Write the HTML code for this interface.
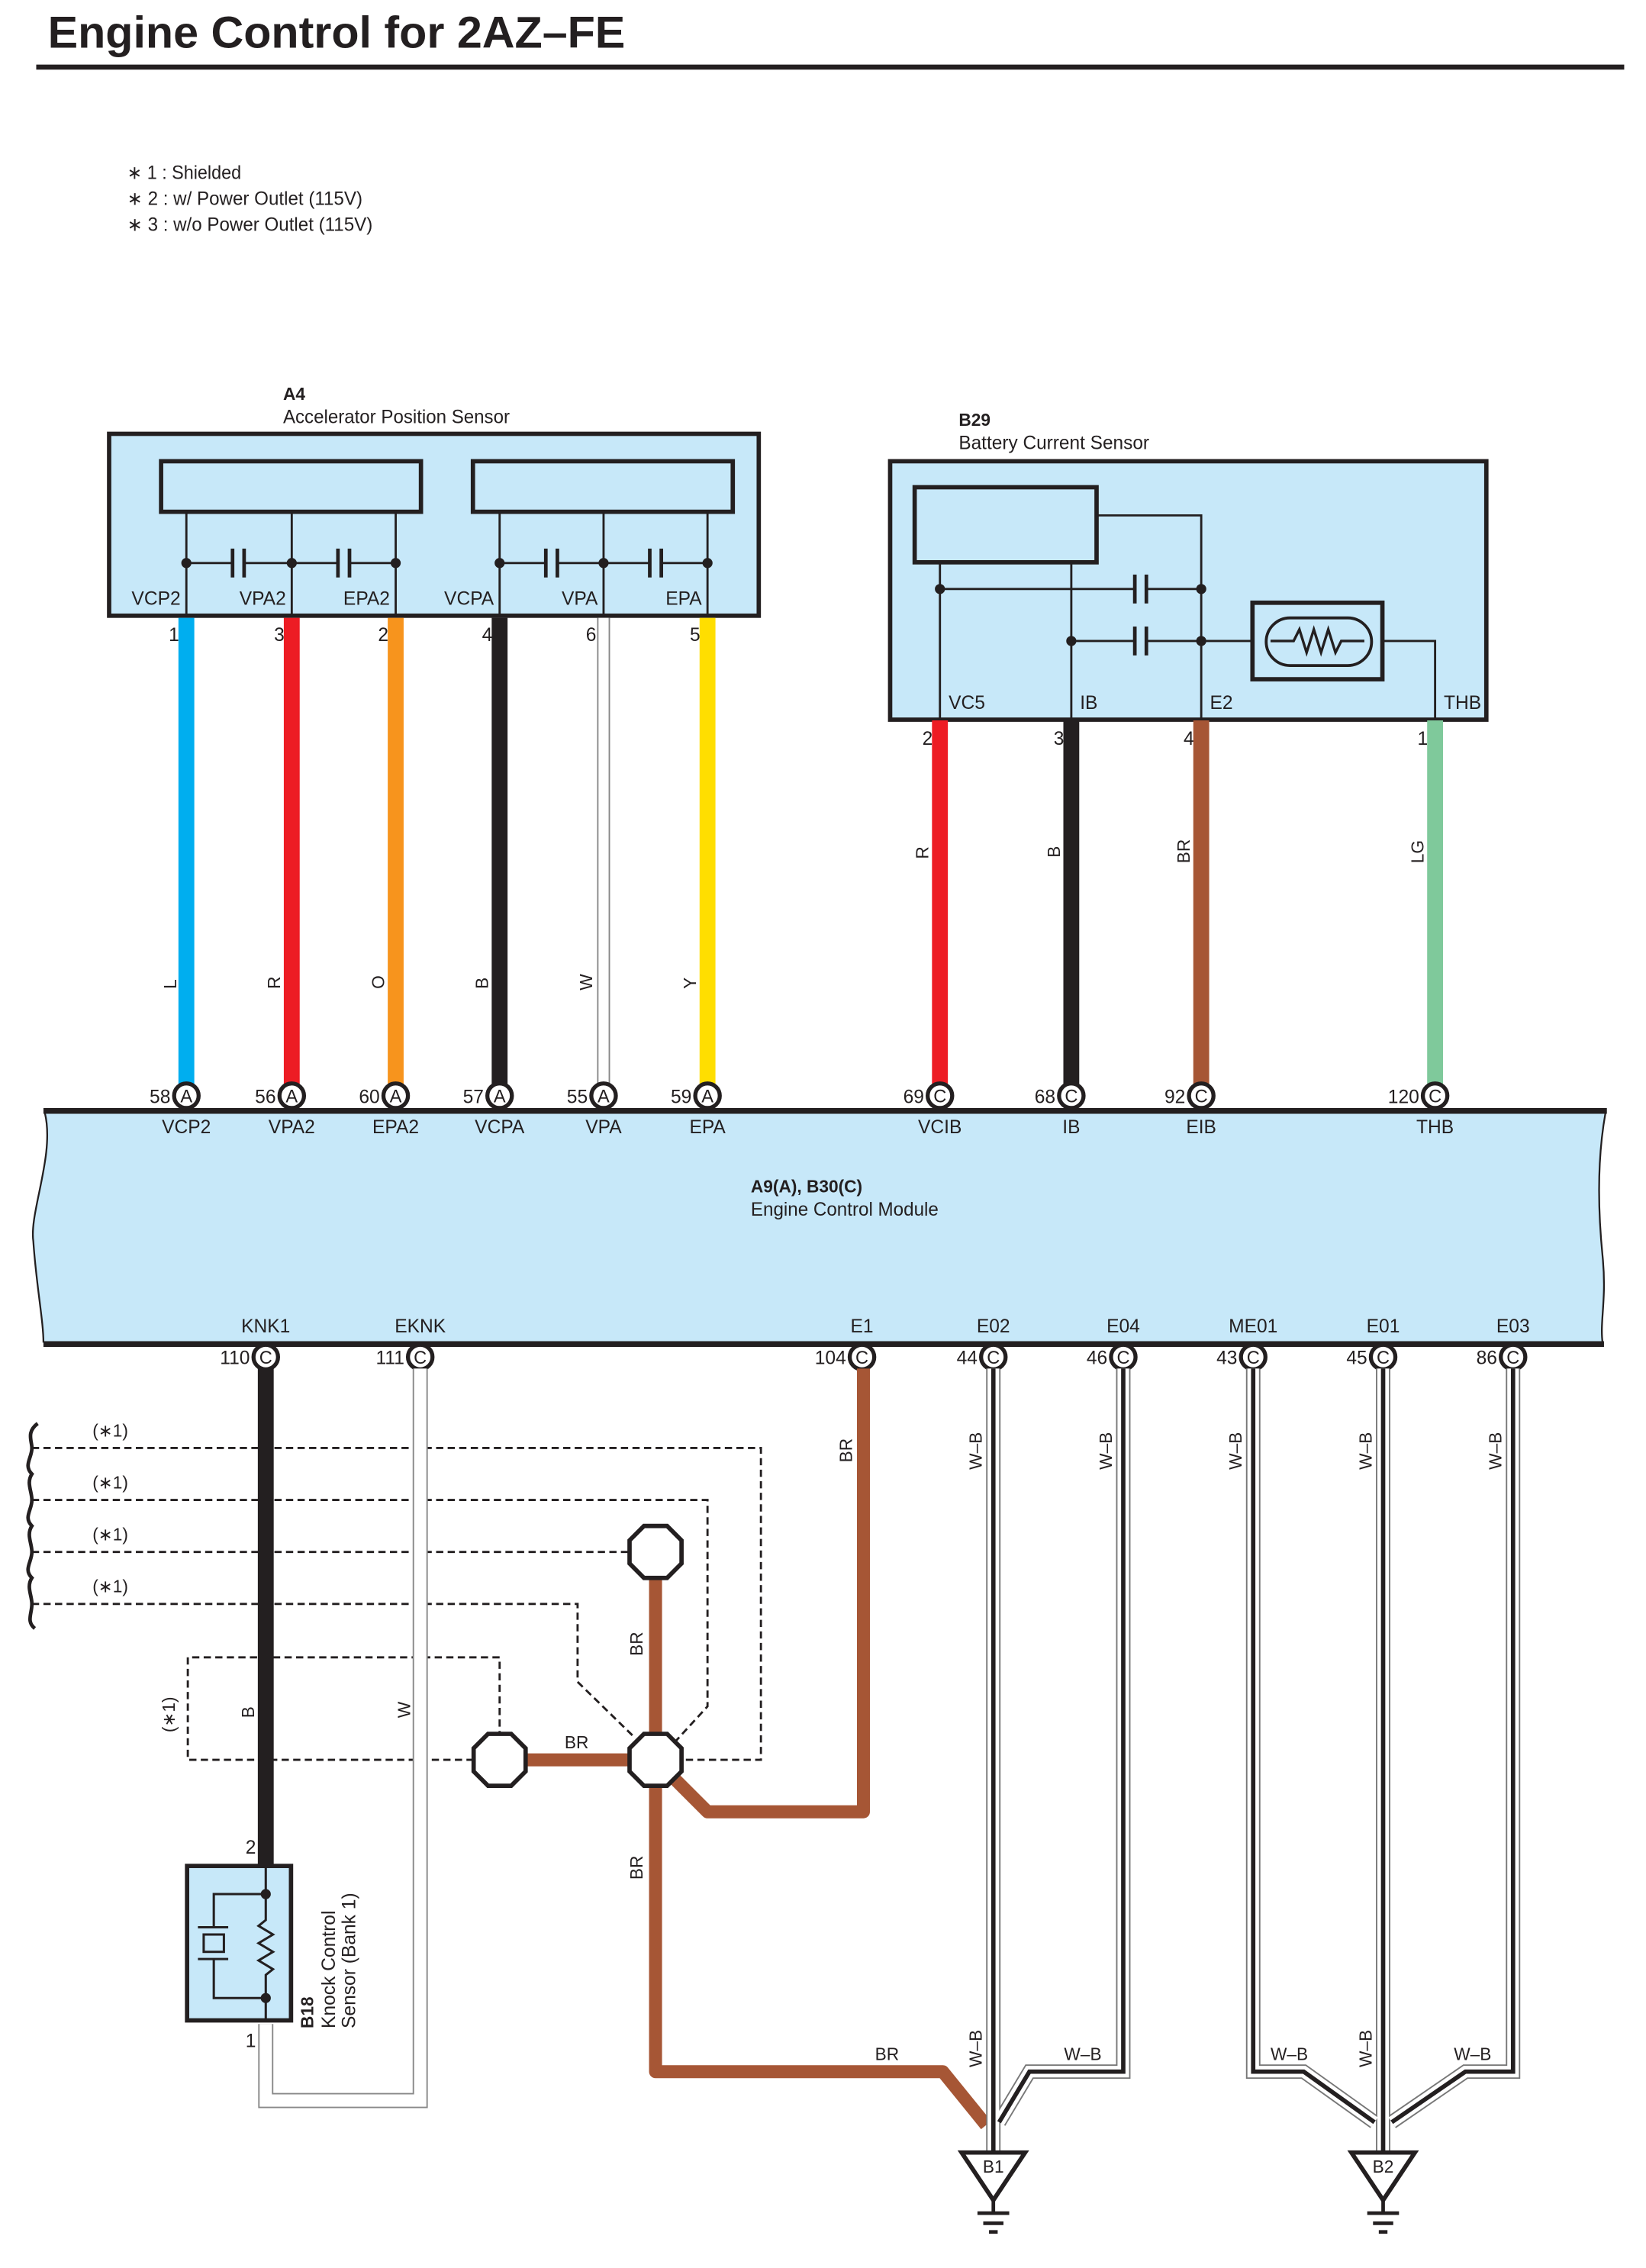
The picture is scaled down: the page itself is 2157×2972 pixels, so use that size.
<!DOCTYPE html>
<html><head><meta charset="utf-8"><style>
html,body{margin:0;padding:0;background:#fff;}
svg{display:block;}
text{font-family:"Liberation Sans",sans-serif;fill:#231f20;}
</style></head><body>
<svg xmlns="http://www.w3.org/2000/svg" width="2157" height="2972" viewBox="0 0 1140 1571">
<defs>
<g id="cap"><line x1="-4" y1="-10" x2="-4" y2="10" stroke="#231f20" stroke-width="2.5"/><line x1="4" y1="-10" x2="4" y2="10" stroke="#231f20" stroke-width="2.5"/></g>
</defs>
<!-- title -->
<text x="33" y="33" font-size="31" font-weight="bold" textLength="400" lengthAdjust="spacingAndGlyphs">Engine Control for 2AZ–FE</text>
<line x1="25" y1="46.5" x2="1125" y2="46.5" stroke="#231f20" stroke-width="3.5"/>
<g font-size="13">
<text x="88" y="124" textLength="79" lengthAdjust="spacingAndGlyphs">∗ 1 : Shielded</text>
<text x="88" y="142" textLength="163" lengthAdjust="spacingAndGlyphs">∗ 2 : w/ Power Outlet (115V)</text>
<text x="88" y="160" textLength="170" lengthAdjust="spacingAndGlyphs">∗ 3 : w/o Power Outlet (115V)</text>
</g>

<!-- A4 -->
<text x="196" y="277" font-size="12" font-weight="bold">A4</text>
<text x="196" y="293" font-size="13" textLength="157" lengthAdjust="spacingAndGlyphs">Accelerator Position Sensor</text>
<rect x="75.5" y="300.5" width="450" height="126" fill="#c7e8f9" stroke="#231f20" stroke-width="3"/>
<rect x="111.5" y="319.5" width="180" height="35" fill="#c7e8f9" stroke="#231f20" stroke-width="3"/>
<rect x="327.5" y="319.5" width="180" height="35" fill="#c7e8f9" stroke="#231f20" stroke-width="3"/>
<g stroke="#231f20" stroke-width="1.5" fill="none">
<path d="M129 354V427M202 354V427M274 354V427M346 354V427M418 354V427M490 354V427"/>
<path d="M129 390H161M169 390H234M242 390H274M346 390H378M386 390H450M458 390H490"/>
</g>
<g fill="#231f20"><circle cx="129" cy="390" r="3.5"/><circle cx="202" cy="390" r="3.5"/><circle cx="274" cy="390" r="3.5"/><circle cx="346" cy="390" r="3.5"/><circle cx="418" cy="390" r="3.5"/><circle cx="490" cy="390" r="3.5"/></g>
<use href="#cap" x="165" y="390"/><use href="#cap" x="238" y="390"/><use href="#cap" x="382" y="390"/><use href="#cap" x="454" y="390"/>
<g font-size="13" text-anchor="end">
<text x="125" y="419">VCP2</text><text x="198" y="419">VPA2</text><text x="270" y="419">EPA2</text>
<text x="342" y="419">VCPA</text><text x="414" y="419">VPA</text><text x="486" y="419">EPA</text>
<text x="124" y="444">1</text><text x="197" y="444">3</text><text x="269" y="444">2</text>
<text x="341" y="444">4</text><text x="413" y="444">6</text><text x="485" y="444">5</text>
</g>
<!-- A4 wires -->
<g stroke-width="11">
<line x1="129" y1="428" x2="129" y2="751" stroke="#00aeef"/>
<line x1="202" y1="428" x2="202" y2="751" stroke="#ed1c24"/>
<line x1="274" y1="428" x2="274" y2="751" stroke="#f7941d"/>
<line x1="346" y1="428" x2="346" y2="751" stroke="#231f20"/>
<line x1="490" y1="428" x2="490" y2="751" stroke="#ffde00"/>
</g>
<line x1="418" y1="428" x2="418" y2="751" stroke="#888" stroke-width="9"/>
<line x1="418" y1="428" x2="418" y2="751" stroke="#fff" stroke-width="7"/>
<g font-size="12">
<text transform="translate(122,685) rotate(-90)">L</text>
<text transform="translate(194,685) rotate(-90)">R</text>
<text transform="translate(266,685) rotate(-90)">O</text>
<text transform="translate(338,685) rotate(-90)">B</text>
<text transform="translate(410,686) rotate(-90)">W</text>
<text transform="translate(482,685) rotate(-90)">Y</text>
</g>

<!-- B29 -->
<text x="664" y="295" font-size="12" font-weight="bold">B29</text>
<text x="664" y="311" font-size="13" textLength="132" lengthAdjust="spacingAndGlyphs">Battery Current Sensor</text>
<rect x="616.5" y="319.5" width="413" height="179" fill="#c7e8f9" stroke="#231f20" stroke-width="3"/>
<rect x="633.5" y="337.5" width="126" height="52" fill="#c7e8f9" stroke="#231f20" stroke-width="3"/>
<g stroke="#231f20" stroke-width="1.5" fill="none">
<path d="M760 357H832V499M651 390V499M742 390V499"/>
<path d="M651 408H786M794 408H832M742 444H786M794 444H880M942 444H994V499"/>
</g>
<use href="#cap" x="790" y="408"/><use href="#cap" x="790" y="444"/>
<g fill="#231f20"><circle cx="651" cy="408" r="3.5"/><circle cx="832" cy="408" r="3.5"/><circle cx="742" cy="444" r="3.5"/><circle cx="832" cy="444" r="3.5"/></g>
<rect x="867.5" y="417.5" width="90" height="53" fill="#c7e8f9" stroke="#231f20" stroke-width="3"/>
<rect x="877" y="428" width="73" height="33" rx="16.5" fill="#c7e8f9" stroke="#231f20" stroke-width="2"/>
<path d="M880 444H896L900 436L905 452L910 436L915 452L920 436L925 452L929 444H945" fill="none" stroke="#231f20" stroke-width="1.8"/>
<g font-size="13">
<text x="657" y="491">VC5</text><text x="748" y="491">IB</text><text x="838" y="491">E2</text><text x="1000" y="491">THB</text>
</g>
<g font-size="13" text-anchor="end">
<text x="646" y="516">2</text><text x="737" y="516">3</text><text x="827" y="516">4</text><text x="989" y="516">1</text>
</g>
<g stroke-width="11">
<line x1="651" y1="499" x2="651" y2="751" stroke="#ed1c24"/>
<line x1="742" y1="499" x2="742" y2="751" stroke="#231f20"/>
<line x1="832" y1="499" x2="832" y2="751" stroke="#a65635"/>
<line x1="994" y1="499" x2="994" y2="751" stroke="#7fc99b"/>
</g>
<g font-size="12">
<text transform="translate(643,595) rotate(-90)">R</text>
<text transform="translate(734,594) rotate(-90)">B</text>
<text transform="translate(824,598) rotate(-90)">BR</text>
<text transform="translate(986,598) rotate(-90)">LG</text>
</g>

<!-- ECM -->
<path d="M31 769H1112C1105 810 1108 850 1110 870C1113 900 1108 915 1110 931H30C30 915 25 890 23 860C20 840 38 800 31 769Z" fill="#c7e8f9"/>
<line x1="30" y1="769.5" x2="1113" y2="769.5" stroke="#231f20" stroke-width="4"/>
<line x1="30" y1="931" x2="1111" y2="931" stroke="#231f20" stroke-width="4"/>
<path d="M31 771C38 800 20 840 23 860C25 890 30 915 30 930" fill="none" stroke="#231f20" stroke-width="1.2"/>
<path d="M1112 771C1105 810 1108 850 1110 870C1113 900 1108 915 1110 930" fill="none" stroke="#231f20" stroke-width="1.2"/>
<g font-size="13" text-anchor="middle">
<text x="129" y="785">VCP2</text><text x="202" y="785">VPA2</text><text x="274" y="785">EPA2</text>
<text x="346" y="785">VCPA</text><text x="418" y="785">VPA</text><text x="490" y="785">EPA</text>
<text x="651" y="785">VCIB</text><text x="742" y="785">IB</text><text x="832" y="785">EIB</text><text x="994" y="785">THB</text>
<text x="184" y="923">KNK1</text><text x="291" y="923">EKNK</text><text x="597" y="923">E1</text>
<text x="688" y="923">E02</text><text x="778" y="923">E04</text><text x="868" y="923">ME01</text>
<text x="958" y="923">E01</text><text x="1048" y="923">E03</text>
</g>
<text x="520" y="826" font-size="12" font-weight="bold">A9(A), B30(C)</text>
<text x="520" y="842" font-size="13" textLength="130" lengthAdjust="spacingAndGlyphs">Engine Control Module</text>

<!-- connector circles -->
<g font-size="12">
<g stroke="#231f20" stroke-width="2.8" fill="#fff">
<circle cx="129" cy="759" r="8.5"/><circle cx="202" cy="759" r="8.5"/><circle cx="274" cy="759" r="8.5"/>
<circle cx="346" cy="759" r="8.5"/><circle cx="418" cy="759" r="8.5"/><circle cx="490" cy="759" r="8.5"/>
<circle cx="651" cy="759" r="8.5"/><circle cx="742" cy="759" r="8.5"/><circle cx="832" cy="759" r="8.5"/><circle cx="994" cy="759" r="8.5"/>
<circle cx="184" cy="940" r="8.5"/><circle cx="291" cy="940" r="8.5"/><circle cx="597" cy="940" r="8.5"/>
<circle cx="688" cy="940" r="8.5"/><circle cx="778" cy="940" r="8.5"/><circle cx="868" cy="940" r="8.5"/>
<circle cx="958" cy="940" r="8.5"/><circle cx="1048" cy="940" r="8.5"/>
</g>
<g text-anchor="middle" font-size="12.5">
<text x="129" y="763.5">A</text><text x="202" y="763.5">A</text><text x="274" y="763.5">A</text><text x="346" y="763.5">A</text><text x="418" y="763.5">A</text><text x="490" y="763.5">A</text>
<text x="651" y="763.5">C</text><text x="742" y="763.5">C</text><text x="832" y="763.5">C</text><text x="994" y="763.5">C</text>
<text x="184" y="944.5">C</text><text x="291" y="944.5">C</text><text x="597" y="944.5">C</text><text x="688" y="944.5">C</text>
<text x="778" y="944.5">C</text><text x="868" y="944.5">C</text><text x="958" y="944.5">C</text><text x="1048" y="944.5">C</text>
</g>
<g text-anchor="end" font-size="13">
<text x="118" y="764">58</text><text x="191" y="764">56</text><text x="263" y="764">60</text><text x="335" y="764">57</text><text x="407" y="764">55</text><text x="479" y="764">59</text>
<text x="640" y="764">69</text><text x="731" y="764">68</text><text x="821" y="764">92</text><text x="983" y="764">120</text>
<text x="173" y="945">110</text><text x="280" y="945">111</text><text x="586" y="945">104</text><text x="677" y="945">44</text>
<text x="767" y="945">46</text><text x="857" y="945">43</text><text x="947" y="945">45</text><text x="1037" y="945">86</text>
</g>
</g>

<!-- dashed shields -->
<g stroke="#231f20" stroke-width="1.5" fill="none" stroke-dasharray="5,3">
<path d="M22 1003H527V1219H472"/>
<path d="M22 1039H490V1182L468 1206"/>
<path d="M22 1075H436"/>
<path d="M22 1111H400V1165L440 1204"/>
<path d="M328 1219H130V1148H346V1200"/>
</g>
<path d="M26 986C18 992 22 998 22 1003C22 1010 16 1015 22 1021C18 1027 22 1033 22 1039C22 1046 16 1051 22 1057C18 1063 22 1069 22 1075C22 1082 16 1087 22 1093C18 1099 22 1105 22 1111C22 1118 18 1123 24 1128" fill="none" stroke="#231f20" stroke-width="2.5"/>
<g font-size="12">
<text x="64" y="995">(∗1)</text><text x="64" y="1031">(∗1)</text><text x="64" y="1067">(∗1)</text><text x="64" y="1103">(∗1)</text>
<text transform="translate(121,1200) rotate(-90)">(∗1)</text>
</g>

<!-- EKNK W wire loop -->
<path d="M291 948V1455H184V1402" fill="none" stroke="#888" stroke-width="10.5"/>
<path d="M291 948V1455H184V1402" fill="none" stroke="#fff" stroke-width="8.5"/>
<line x1="184" y1="948" x2="184" y2="1293" stroke="#231f20" stroke-width="11"/>
<g font-size="12">
<text transform="translate(176,1190) rotate(-90)">B</text>
<text transform="translate(284,1190) rotate(-90)">W</text>
</g>

<!-- BR wires -->
<g stroke="#a65635" stroke-width="9" fill="none" stroke-linejoin="round">
<path d="M598 948V1255H490L454 1219"/>
<path d="M346 1219H454"/>
<path d="M454 1075V1219"/>
<path d="M454 1219V1435H653L683 1472"/>
</g>
<g fill="#fff" stroke="#231f20" stroke-width="3">
<path d="M338 1201H354L364 1211V1227L354 1237H338L328 1227V1211Z"/>
<path d="M446 1201H462L472 1211V1227L462 1237H446L436 1227V1211Z"/>
<path d="M446 1057H462L472 1067V1083L462 1093H446L436 1083V1067Z"/>
</g>
<g font-size="12">
<text x="391" y="1211">BR</text>
<text transform="translate(445,1147) rotate(-90)">BR</text>
<text transform="translate(445,1302) rotate(-90)">BR</text>
<text transform="translate(590,1013) rotate(-90)">BR</text>
<text x="606" y="1427">BR</text>
</g>

<!-- Knock sensor -->
<rect x="129.5" y="1292.5" width="72" height="107" fill="#c7e8f9" stroke="#231f20" stroke-width="3"/>
<g stroke="#231f20" stroke-width="1.6" fill="none">
<path d="M184 1292V1330L179 1334L189 1340L179 1346L189 1352L179 1358L189 1364L184 1368V1400"/>
<path d="M184 1312H148V1335M148 1357V1384H184"/>
<path d="M137 1335H158M137 1357H158"/>
<rect x="141" y="1340" width="14" height="12"/>
</g>
<g fill="#231f20"><circle cx="184" cy="1312" r="3.5"/><circle cx="184" cy="1384" r="3.5"/></g>
<text x="170" y="1284" font-size="13">2</text>
<text x="170" y="1418" font-size="13">1</text>
<text transform="translate(217,1405) rotate(-90)" font-size="12" font-weight="bold">B18</text>
<text transform="translate(232,1405) rotate(-90)" font-size="13">Knock Control</text>
<text transform="translate(246,1405) rotate(-90)" font-size="13">Sensor (Bank 1)</text>

<!-- W-B ground wires -->
<g fill="none" stroke-linejoin="miter">
<g stroke="#777" stroke-width="10">
<path d="M688 948V1492"/><path d="M778 948V1435H713L692 1470"/>
<path d="M958 948V1492"/><path d="M868 948V1435H903L952 1470"/><path d="M1048 948V1435H1015L964 1470"/>
</g>
<g stroke="#fff" stroke-width="8">
<path d="M688 948V1492"/><path d="M778 948V1435H713L692 1470"/>
<path d="M958 948V1492"/><path d="M868 948V1435H903L952 1470"/><path d="M1048 948V1435H1015L964 1470"/>
</g>
<g stroke="#231f20" stroke-width="3">
<path d="M688 948V1492"/><path d="M778 948V1435H713L692 1470"/>
<path d="M958 948V1492"/><path d="M868 948V1435H903L952 1470"/><path d="M1048 948V1435H1015L964 1470"/>
</g>
</g>
<g font-size="12">
<text transform="translate(680,1018) rotate(-90)">W–B</text>
<text transform="translate(770,1018) rotate(-90)">W–B</text>
<text transform="translate(860,1018) rotate(-90)">W–B</text>
<text transform="translate(950,1018) rotate(-90)">W–B</text>
<text transform="translate(1040,1018) rotate(-90)">W–B</text>
<text transform="translate(680,1432) rotate(-90)">W–B</text>
<text transform="translate(950,1432) rotate(-90)">W–B</text>
<text x="737" y="1427">W–B</text><text x="880" y="1427">W–B</text><text x="1007" y="1427">W–B</text>
</g>
<g stroke="#231f20" fill="#fff">
<path d="M666 1491H710L688 1524Z" stroke-width="3"/>
<path d="M936 1491H980L958 1524Z" stroke-width="3"/>
<path d="M688 1524V1533M677 1533H699M681 1540H695M685 1546H691M958 1524V1533M947 1533H969M951 1540H965M955 1546H961" stroke-width="2.5"/>
</g>
<g font-size="12" text-anchor="middle"><text x="688" y="1505">B1</text><text x="958" y="1505">B2</text></g>
</svg>
</body></html>
